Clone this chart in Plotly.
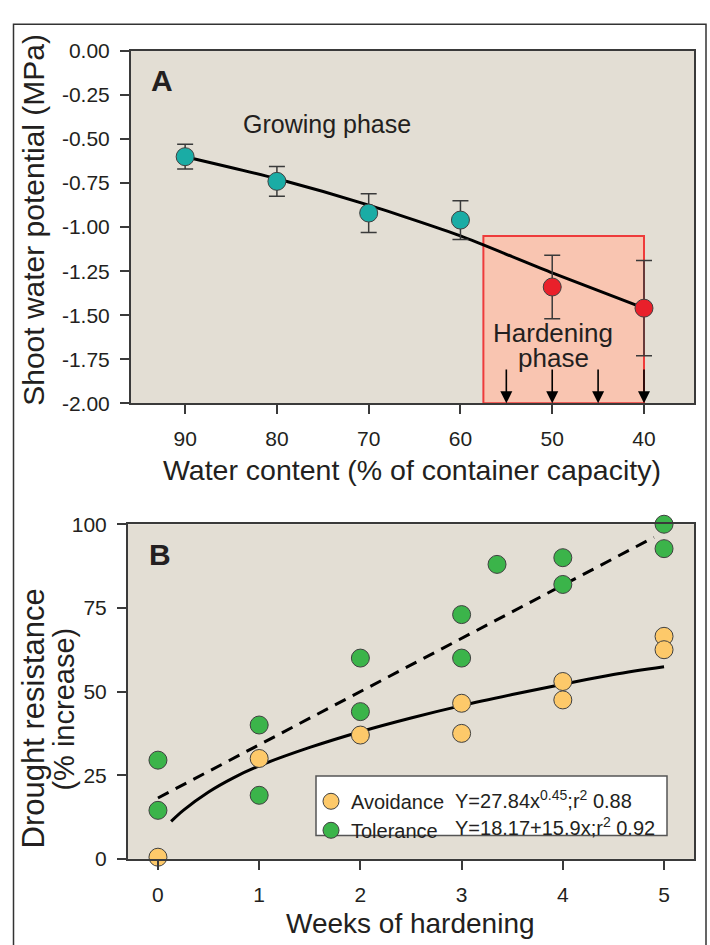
import plotly.graph_objects as go

W, H = 710, 945

# ---------------- Panel A data ----------------
water_content = [90, 80, 70, 60, 50, 40]
shoot_potential = [-0.60, -0.74, -0.92, -0.96, -1.34, -1.46]
shoot_err = [0.07, 0.085, 0.11, 0.11, 0.18, 0.27]
phase_colors = ["#1aaca5", "#1aaca5", "#1aaca5", "#1aaca5", "#e9202a", "#e9202a"]
fit_a_x = [90, 80, 70, 60, 50, 40]
fit_a_y = [-0.60, -0.725, -0.875, -1.05, -1.26, -1.46]
hardening_x = [57.5, 40]
hardening_y = [-2.0, -1.05]
arrow_x = [55, 50, 45, 40]
arrow_tail = -1.80
a_xticks = [90, 80, 70, 60, 50, 40]
a_yticks = [0.00, -0.25, -0.50, -0.75, -1.00, -1.25, -1.50, -1.75, -2.00]

# ---------------- Panel B data ----------------
avoid_weeks = [0, 1, 2, 3, 3, 4, 4, 5, 5]
avoid_vals = [0.5, 30, 37, 46.5, 37.5, 53, 47.5, 66.5, 62.5]
tol_weeks = [0, 0, 1, 1, 2, 2, 3, 3, 3.35, 4, 4, 5, 5]
tol_vals = [29.5, 14.5, 40, 19, 60, 44, 73, 60, 88, 90, 82, 100, 92.7]
avoid_fit_x = [0.13, 0.25, 0.5, 0.75, 1, 1.5, 2, 2.5, 3, 3.5, 4, 4.5, 5]
avoid_fit_y = [11.2, 14.5, 20.0, 24.3, 27.8, 33.3, 38.0, 42.1, 45.8, 49.1, 52.2, 55.1, 57.4]
tol_fit_x = [0, 4.9]
tol_fit_y = [18.2, 96.1]
b_xticks = [0, 1, 2, 3, 4, 5]
b_yticks = [0, 25, 50, 75, 100]

FONT = "Liberation Sans, Arial, Helvetica, sans-serif"
TXT = "#231f20"
AX = "#3a3a3a"


def px(x):
    return x / W


def py(y):
    return 1 - y / H


fig = go.Figure()

# Panel A
fig.add_trace(go.Scatter(x=fit_a_x, y=fit_a_y, mode="lines",
                         line=dict(color="black", width=3, shape="spline", smoothing=0.6),
                         xaxis="x", yaxis="y", showlegend=False, hoverinfo="skip"))
fig.add_trace(go.Scatter(x=water_content, y=shoot_potential, mode="markers",
                         marker=dict(size=18, color=phase_colors, line=dict(color="#404040", width=1)),
                         error_y=dict(type="data", array=shoot_err, color=AX, thickness=1.5, width=8),
                         xaxis="x", yaxis="y", showlegend=False, cliponaxis=False))

# Panel B
fig.add_trace(go.Scatter(x=tol_fit_x, y=tol_fit_y, mode="lines",
                         line=dict(color="black", width=3, dash="12px,8px"),
                         xaxis="x2", yaxis="y2", showlegend=False, hoverinfo="skip"))
fig.add_trace(go.Scatter(x=avoid_fit_x, y=avoid_fit_y, mode="lines",
                         line=dict(color="black", width=3, shape="spline"),
                         xaxis="x2", yaxis="y2", showlegend=False, hoverinfo="skip"))
fig.add_trace(go.Scatter(x=avoid_weeks, y=avoid_vals, mode="markers", name="Avoidance",
                         marker=dict(size=18, color="#fdc96a", line=dict(color="#404040", width=1)),
                         xaxis="x2", yaxis="y2", cliponaxis=False))
fig.add_trace(go.Scatter(x=tol_weeks, y=tol_vals, mode="markers", name="Tolerance",
                         marker=dict(size=18, color="#3bb44a", line=dict(color="#404040", width=1)),
                         xaxis="x2", yaxis="y2", cliponaxis=False))

axis_common = dict(showline=True, linecolor=AX, linewidth=2, mirror=True,
                   ticks="outside", ticklen=9, tickwidth=2, tickcolor=AX,
                   showgrid=False, zeroline=False,
                   tickfont=dict(family=FONT, size=21, color=TXT))

fig.update_layout(
    width=W, height=H,
    margin=dict(l=0, r=0, t=0, b=0),
    paper_bgcolor="white",
    plot_bgcolor="#e3ded4",
    font=dict(family=FONT, color=TXT),
    xaxis=dict(domain=[px(131), px(694)], range=[95.9, 34.55], anchor="y",
               tickvals=a_xticks, ticklabelstandoff=7, **axis_common),
    yaxis=dict(domain=[py(401), py(40)], range=[-2, 0], anchor="x",
               tickvals=a_yticks, ticktext=[f"{v:.2f}" for v in a_yticks],
               ticklabelstandoff=6, **axis_common),
    xaxis2=dict(domain=[px(128), px(694)], range=[-0.296, 5.296], anchor="y2",
                tickvals=b_xticks, ticklabelstandoff=7, **axis_common),
    yaxis2=dict(domain=[py(868), py(525)], range=[0, 100], anchor="x2",
                tickvals=b_yticks, ticklabelstandoff=6, **axis_common),
    showlegend=True,
    legend=dict(x=px(311), y=py(789), xanchor="left", yanchor="top",
                bgcolor="rgba(0,0,0,0)", borderwidth=0,
                font=dict(family=FONT, size=20, color=TXT),
                tracegroupgap=0, itemwidth=30),
)

shapes = [
    # hardening box
    dict(type="rect", xref="x", yref="y", x0=hardening_x[0], x1=hardening_x[1],
         y0=hardening_y[0], y1=hardening_y[1], fillcolor="#f9c5b1",
         line=dict(color="#ee3b3b", width=2), layer="below"),
    # legend box
    dict(type="rect", xref="paper", yref="paper", x0=px(316), x1=px(667),
         y0=py(844), y1=py(783), fillcolor="white", line=dict(color="#555555", width=1.5),
         layer="above"),
    # outer frame
    dict(type="rect", xref="paper", yref="paper", x0=px(13.5), x1=px(706),
         y0=-0.05, y1=py(12.5), line=dict(color="#333333", width=1.5),
         fillcolor="rgba(0,0,0,0)", layer="below"),
]
fig.update_layout(shapes=shapes)

ann = []
for ax_ in arrow_x:
    ann.append(dict(x=ax_, y=-2, xref="x", yref="y", ax=ax_, ay=arrow_tail,
                    axref="x", ayref="y", showarrow=True, arrowhead=2, arrowsize=1.5,
                    arrowwidth=1.6, arrowcolor="black", text="", standoff=0))


def txt(x, y, s, size, **kw):
    d = dict(x=px(x), y=py(y), xref="paper", yref="paper", text=s, showarrow=False,
             xanchor="center", yanchor="middle",
             font=dict(family=FONT, size=size, color=TXT))
    d.update(kw)
    return d


ann += [
    txt(162, 70, "<b>A</b>", 30),
    txt(160, 556, "<b>B</b>", 30),
    txt(327, 115, "Growing phase", 25),
    txt(553, 329, "Hardening", 26),
    txt(553, 355, "phase", 26),
    txt(412, 469, "Water content (% of container capacity)", 28.5),
    txt(410, 934, "Weeks of hardening", 28),
    txt(34, 213, "Shoot water potential (MPa)", 30, textangle=-90),
    txt(33, 724, "Drought resistance", 31, textangle=-90),
    txt(64, 715, "(% increase)", 29, textangle=-90),
    txt(453, 807, "Y=27.84x<sup>0.45</sup>;r<sup>2</sup> 0.88", 20, xanchor="left"),
    txt(453, 835, "Y=18.17+15.9x;r<sup>2</sup> 0.92", 20, xanchor="left"),
]
fig.update_layout(annotations=ann)

fig.write_html("out.html", config={"displayModeBar": False},
               post_script="document.body.style.margin='0px';")
